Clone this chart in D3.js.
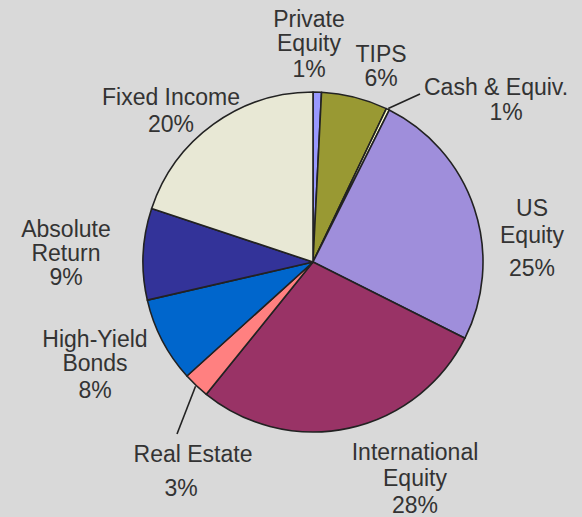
<!DOCTYPE html>
<html>
<head>
<meta charset="utf-8">
<script src="https://d3js.org/d3.v7.min.js"></script>
<style>
  body { margin: 0; background: #d9d9d9; }
  svg text { font-family: "Liberation Sans", Arial, sans-serif; font-size: 23px; fill: #333; }
</style>
</head>
<body>
<svg id="pie" width="582" height="517"></svg>
<script>
// slices clockwise from 12 o'clock
const categories = ["Private Equity", "TIPS", "Cash & Equiv.", "US Equity", "International Equity",
  "Real Estate", "High-Yield Bonds", "Absolute Return", "Fixed Income"];
const shares = [0.8, 6.3, 0.3, 25, 28.4, 2.5, 8.1, 8.7, 19.9];
const shownPct = ["1%", "6%", "1%", "25%", "28%", "3%", "8%", "9%", "20%"];
const labelLines = [["Private", "Equity"], ["TIPS"], ["Cash & Equiv."], ["US", "Equity"],
  ["International", "Equity"], ["Real Estate"], ["High-Yield", "Bonds"], ["Absolute", "Return"], ["Fixed Income"]];
const colors = ["#9999ff", "#999933", "#ffffcc", "#9f8edb", "#993366", "#ff8080", "#0066cc", "#333399", "#e8e8d5"];

const svg = d3.select("#pie");
const cx = 313, cy = 262, radius = 170;

// hand placed label spots (x centre, first line y) and line gaps
const layout = {
  "Private Equity": { x: 309, y: 27, gaps: [24, 26] },
  "TIPS": { x: 381, y: 62, gaps: [24] },
  "Cash & Equiv.": { x: 496, y: 95, gaps: [25], pctDx: 10 },
  "US Equity": { x: 532, y: 216, gaps: [27, 33] },
  "International Equity": { x: 415, y: 460, gaps: [26, 27] },
  "Real Estate": { x: 193, y: 462, gaps: [34], pctDx: -12 },
  "High-Yield Bonds": { x: 95, y: 347, gaps: [24, 27] },
  "Absolute Return": { x: 66, y: 237, gaps: [24, 24] },
  "Fixed Income": { x: 171, y: 105, gaps: [27] }
};
const leaders = { "Cash & Equiv.": [420, 94], "Real Estate": [177, 434] };

const pie = d3.pie().sort(null).value(d => d.v);
const arcs = pie(categories.map((c, i) => ({ name: c, v: shares[i], i: i })));
const arc = d3.arc().innerRadius(0).outerRadius(radius);

const g = svg.append("g").attr("transform", `translate(${cx},${cy})`);

g.selectAll("path.slice").data(arcs)
  .join("path")
  .attr("class", "slice")
  .attr("d", arc)
  .attr("fill", d => colors[d.data.i])
  .attr("stroke", "#222")
  .attr("stroke-width", 1.6)
  .attr("stroke-linejoin", "round");

// leader lines for the thin slices
arcs.filter(d => leaders[d.data.name]).forEach(d => {
  const a = (d.startAngle + d.endAngle) / 2;
  const end = leaders[d.data.name];
  svg.append("line")
    .attr("x1", cx + Math.sin(a) * (radius + 1))
    .attr("y1", cy - Math.cos(a) * (radius + 1))
    .attr("x2", end[0]).attr("y2", end[1])
    .attr("stroke", "#222").attr("stroke-width", 1.6);
});

categories.forEach((c, i) => {
  const L = layout[c];
  const t = svg.append("text").attr("text-anchor", "middle");
  let y = L.y;
  labelLines[i].forEach((line, k) => {
    t.append("tspan").attr("x", L.x).attr("y", y).text(line);
    y += L.gaps[k];
  });
  t.append("tspan").attr("x", L.x + (L.pctDx || 0)).attr("y", y).text(shownPct[i]);
});
</script>
</body>
</html>
